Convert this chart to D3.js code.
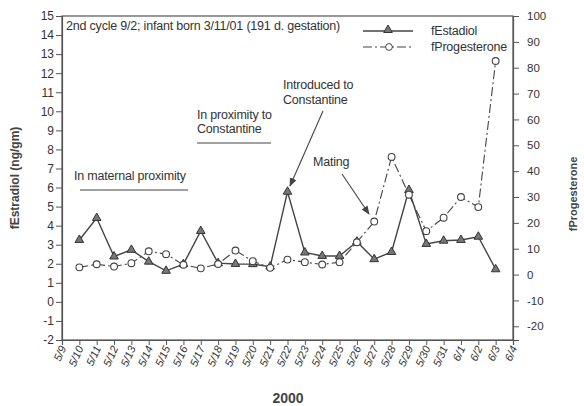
<!DOCTYPE html>
<html><head><meta charset="utf-8">
<script src="https://cdn.jsdelivr.net/npm/d3@7"></script>
<style>body{margin:0;background:#fff}svg{display:block;font-family:"Liberation Sans",Arial,sans-serif}</style>
</head><body>
<svg id="c" width="584" height="406"></svg>
<script>
const dates = ["5/9","5/10","5/11","5/12","5/13","5/14","5/15","5/16","5/17","5/18","5/19","5/20","5/21","5/22","5/23","5/24","5/25","5/26","5/27","5/28","5/29","5/30","5/31","6/1","6/2","6/3","6/4"];
const dataDates = ["5/10","5/11","5/12","5/13","5/14","5/15","5/16","5/17","5/18","5/19","5/20","5/21","5/22","5/23","5/24","5/25","5/26","5/27","5/28","5/29","5/30","5/31","6/1","6/2","6/3"];
const estradiol = [3.25,4.4,2.38,2.73,2.11,1.63,1.98,3.72,2.03,1.99,1.98,1.85,5.78,2.59,2.41,2.41,3.16,2.24,2.62,5.87,3.04,3.21,3.25,3.42,1.71];
const progesterone = [2.8,4.0,3.1,4.4,9.0,7.9,3.8,2.4,4.1,9.3,5.2,2.6,5.8,4.8,3.9,4.8,12.5,20.5,45.5,30.9,16.8,22.0,30.0,26.1,82.6];
const leftTicks = d3.range(-2,16,1);
const rightTicks = d3.range(-20,101,10);

const svg = d3.select("#c");
const L=62,R=513,T=16,B=340;
const x = d3.scalePoint().domain(dates).range([L,R]);
const yL = d3.scaleLinear().domain([-2,15]).range([B,T]);
const yR = d3.scaleLinear().domain([-25.3,100]).range([B,T]);
const ink="#333";
const fmt = d=>String(d);

svg.append("rect").attr("x",L).attr("y",T).attr("width",R-L).attr("height",B-T).attr("fill","none").attr("stroke","#555").attr("stroke-width",1.2);

const ax = svg.append("g").attr("transform",`translate(${L},0)`).call(d3.axisLeft(yL).tickValues(leftTicks).tickSize(6).tickFormat(fmt));
const axR = svg.append("g").attr("transform",`translate(${R},0)`).call(d3.axisRight(yR).tickValues(rightTicks).tickSize(6).tickFormat(fmt));
const axB = svg.append("g").attr("transform",`translate(0,${B})`).call(d3.axisBottom(x).tickSize(5));
[ax,axR,axB].forEach(g=>{g.select(".domain").attr("stroke","#555").attr("stroke-width",1.2);g.selectAll(".tick line").attr("stroke","#555");g.selectAll("text").attr("fill",ink).attr("font-family","'Liberation Sans',Arial,sans-serif");});
ax.selectAll("text").attr("x",-8).attr("font-size",12);
axR.selectAll("text").attr("x",14).attr("font-size",11.5);
axB.selectAll("text").attr("font-size",11).attr("text-anchor","end").attr("dy",0).attr("dx",0)
  .attr("transform","translate(4,8) rotate(-66)").attr("y",0).attr("x",0).attr("font-style","italic");

svg.append("text").attr("transform","translate(19,178) rotate(-90)").attr("text-anchor","middle").attr("font-size",12).attr("font-weight","bold").attr("fill","#444").text("fEstradiol (ng/gm)");
svg.append("text").attr("transform","translate(577,194) rotate(-90)").attr("text-anchor","middle").attr("font-size",11).attr("font-weight","bold").attr("fill","#444").text("fProgesterone");
svg.append("text").attr("x",288).attr("y",403).attr("text-anchor","middle").attr("font-size",14).attr("font-weight","bold").attr("fill","#444").text("2000");

const est = dataDates.map((d,i)=>({d,v:estradiol[i]}));
const pro = dataDates.map((d,i)=>({d,v:progesterone[i]}));
svg.append("path").datum(pro).attr("fill","none").attr("stroke","#444").attr("stroke-width",1.1).attr("stroke-dasharray","9,3,2,3")
  .attr("d",d3.line().x(p=>x(p.d)).y(p=>yR(p.v)));
svg.append("path").datum(est).attr("fill","none").attr("stroke","#444").attr("stroke-width",1.4)
  .attr("d",d3.line().x(p=>x(p.d)).y(p=>yL(p.v)));
const tri = d3.symbol().type(d3.symbolTriangle).size(32);
svg.selectAll(".tri").data(est).join("path").attr("transform",p=>`translate(${x(p.d)},${yL(p.v)})`).attr("d",tri).attr("fill","#777").attr("stroke","#333");
svg.selectAll(".cir").data(pro).join("circle").attr("cx",p=>x(p.d)).attr("cy",p=>yR(p.v)).attr("r",3.4).attr("fill","#fff").attr("stroke","#444").attr("stroke-width",1.1);

const ft = (xx,yy,t,s=12.5)=>svg.append("text").attr("x",xx).attr("y",yy).attr("font-size",s).attr("fill",ink).attr("letter-spacing",-0.2).text(t);
ft(66,30,"2nd cycle 9/2; infant born 3/11/01 (191 d. gestation)");
ft(74,180,"In maternal proximity");
svg.append("line").attr("x1",80).attr("x2",188).attr("y1",190).attr("y2",190).attr("stroke","#444").attr("stroke-width",1.2);
ft(197,119,"In proximity to");
ft(197,133,"Constantine");
svg.append("line").attr("x1",197).attr("x2",271).attr("y1",143).attr("y2",143).attr("stroke","#444").attr("stroke-width",1.2);
ft(283,89,"Introduced to");
ft(283,104,"Constantine");
ft(313,166,"Mating");
svg.append("defs").append("marker").attr("id","ah").attr("viewBox","0 0 10 10").attr("refX",9).attr("refY",5).attr("markerWidth",8).attr("markerHeight",8).attr("orient","auto")
  .append("path").attr("d","M0,1 L10,5 L0,9 Z").attr("fill","#444");
svg.append("line").attr("x1",323).attr("y1",111).attr("x2",290).attr("y2",186).attr("stroke","#444").attr("stroke-width",1.1).attr("marker-end","url(#ah)");
svg.append("line").attr("x1",342).attr("y1",174).attr("x2",369).attr("y2",214).attr("stroke","#444").attr("stroke-width",1.1).attr("marker-end","url(#ah)");

svg.append("line").attr("x1",363).attr("x2",413).attr("y1",31).attr("y2",31).attr("stroke","#444").attr("stroke-width",1.4);
svg.append("path").attr("transform","translate(388,30)").attr("d",tri).attr("fill","#777").attr("stroke","#333");
svg.append("line").attr("x1",363).attr("x2",413).attr("y1",47).attr("y2",47).attr("stroke","#444").attr("stroke-width",1.1).attr("stroke-dasharray","9,3,2,3");
svg.append("circle").attr("cx",389).attr("cy",47).attr("r",3.4).attr("fill","#fff").attr("stroke","#444");
ft(431,35,"fEstadiol");
ft(431,51,"fProgesterone");
</script>
</body></html>
